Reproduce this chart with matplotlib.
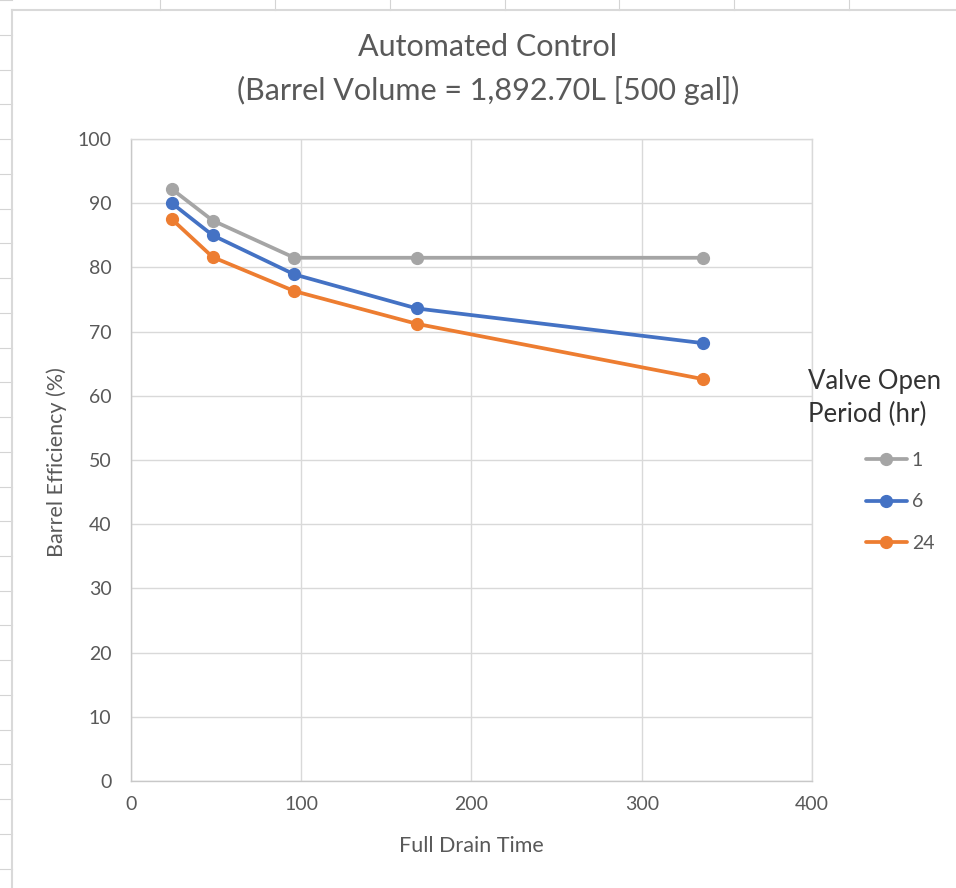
import matplotlib
matplotlib.use("Agg")
import matplotlib.pyplot as plt
from matplotlib.lines import Line2D

plt.rcParams['font.family'] = ['Lato', 'DejaVu Sans']

# drain time (hr) and barrel efficiency (%) per valve open period
drain_time = [24, 48, 96, 168, 336]
eff_1hr = [92.2, 87.3, 81.5, 81.5, 81.5]
eff_6hr = [90.0, 85.0, 78.9, 73.6, 68.2]
eff_24hr = [87.5, 81.6, 76.3, 71.2, 62.6]
period_labels = ["1", "6", "24"]

GRAY = "#A5A5A5"
BLUE = "#4472C4"
ORANGE = "#ED7D31"
TEXT = "#595959"
GRID = "#D9D9D9"

W, H = 956, 888
fig = plt.figure(figsize=(W / 100, H / 100), dpi=100)

# spreadsheet cell lines around the embedded chart
for x in [160, 275, 390, 505, 619, 734, 849]:
    fig.add_artist(Line2D([x / W, x / W], [1 - 0 / H, 1 - 10 / H], color="#D4D4D4", lw=0.8))
for k in range(26):
    y = 0.3 + 34.73 * k
    fig.add_artist(Line2D([0, 12 / W], [1 - y / H, 1 - y / H], color="#D4D4D4", lw=0.8))
fig.add_artist(Line2D([12 / W, 1], [1 - 10 / H, 1 - 10 / H], color="#D9D9D9", lw=1.5))
fig.add_artist(Line2D([12 / W, 12 / W], [0, 1 - 10 / H], color="#D9D9D9", lw=1.5))

ax = fig.add_axes([131 / W, 1 - 781 / H, (812 - 131) / W, (781 - 139) / H])

series = [(eff_1hr, GRAY), (eff_6hr, BLUE), (eff_24hr, ORANGE)]
handles = []
for vals, col in series:
    h, = ax.plot(drain_time, vals, color=col, lw=2.7, marker="o", markersize=8.5,
                 solid_capstyle="round")
    handles.append(h)

ax.set_xlim(0, 400)
ax.set_ylim(0, 100)
ax.set_xticks(range(0, 401, 100))
ax.set_yticks(range(0, 101, 10))
ax.grid(True, color=GRID, lw=1.0)
ax.set_axisbelow(True)
for side in ["top", "right"]:
    ax.spines[side].set_color(GRID)
    ax.spines[side].set_linewidth(1.0)
for side in ["left", "bottom"]:
    ax.spines[side].set_color("#C8C8C8")
    ax.spines[side].set_linewidth(1.0)
ax.tick_params(length=0, labelsize=14, labelcolor=TEXT)
ax.tick_params(axis="y", pad=14)
ax.tick_params(axis="x", pad=11)

fig.text(57 / W, 1 - 462 / H, "Barrel Efficiency (%)", rotation=90, ha="center",
         va="center", fontsize=15.5, color=TEXT)
fig.text(471 / W, 1 - 846 / H, "Full Drain Time", ha="center", va="center",
         fontsize=15.5, color=TEXT)

fig.text(488 / W, 1 - 47 / H, "Automated Control", ha="center", va="center",
         fontsize=22, color=TEXT)
fig.text(488 / W, 1 - 90 / H, "(Barrel Volume = 1,892.70L [500 gal])", ha="center",
         va="center", fontsize=22, color=TEXT)

fig.text(808 / W, 1 - 398 / H, "Valve Open\nPeriod (hr)", ha="left", va="center",
         fontsize=18.5, color="#333333", linespacing=1.35)

leg = fig.legend(handles, period_labels, loc="upper left",
                 bbox_to_anchor=(866 / W, 1 - 452 / H), bbox_transform=fig.transFigure,
                 frameon=False, fontsize=14, handlelength=2.1, handletextpad=0.25,
                 labelspacing=1.25, borderpad=0, borderaxespad=0)
for t in leg.get_texts():
    t.set_color(TEXT)

fig.savefig("out.png", dpi=100, facecolor="white")
